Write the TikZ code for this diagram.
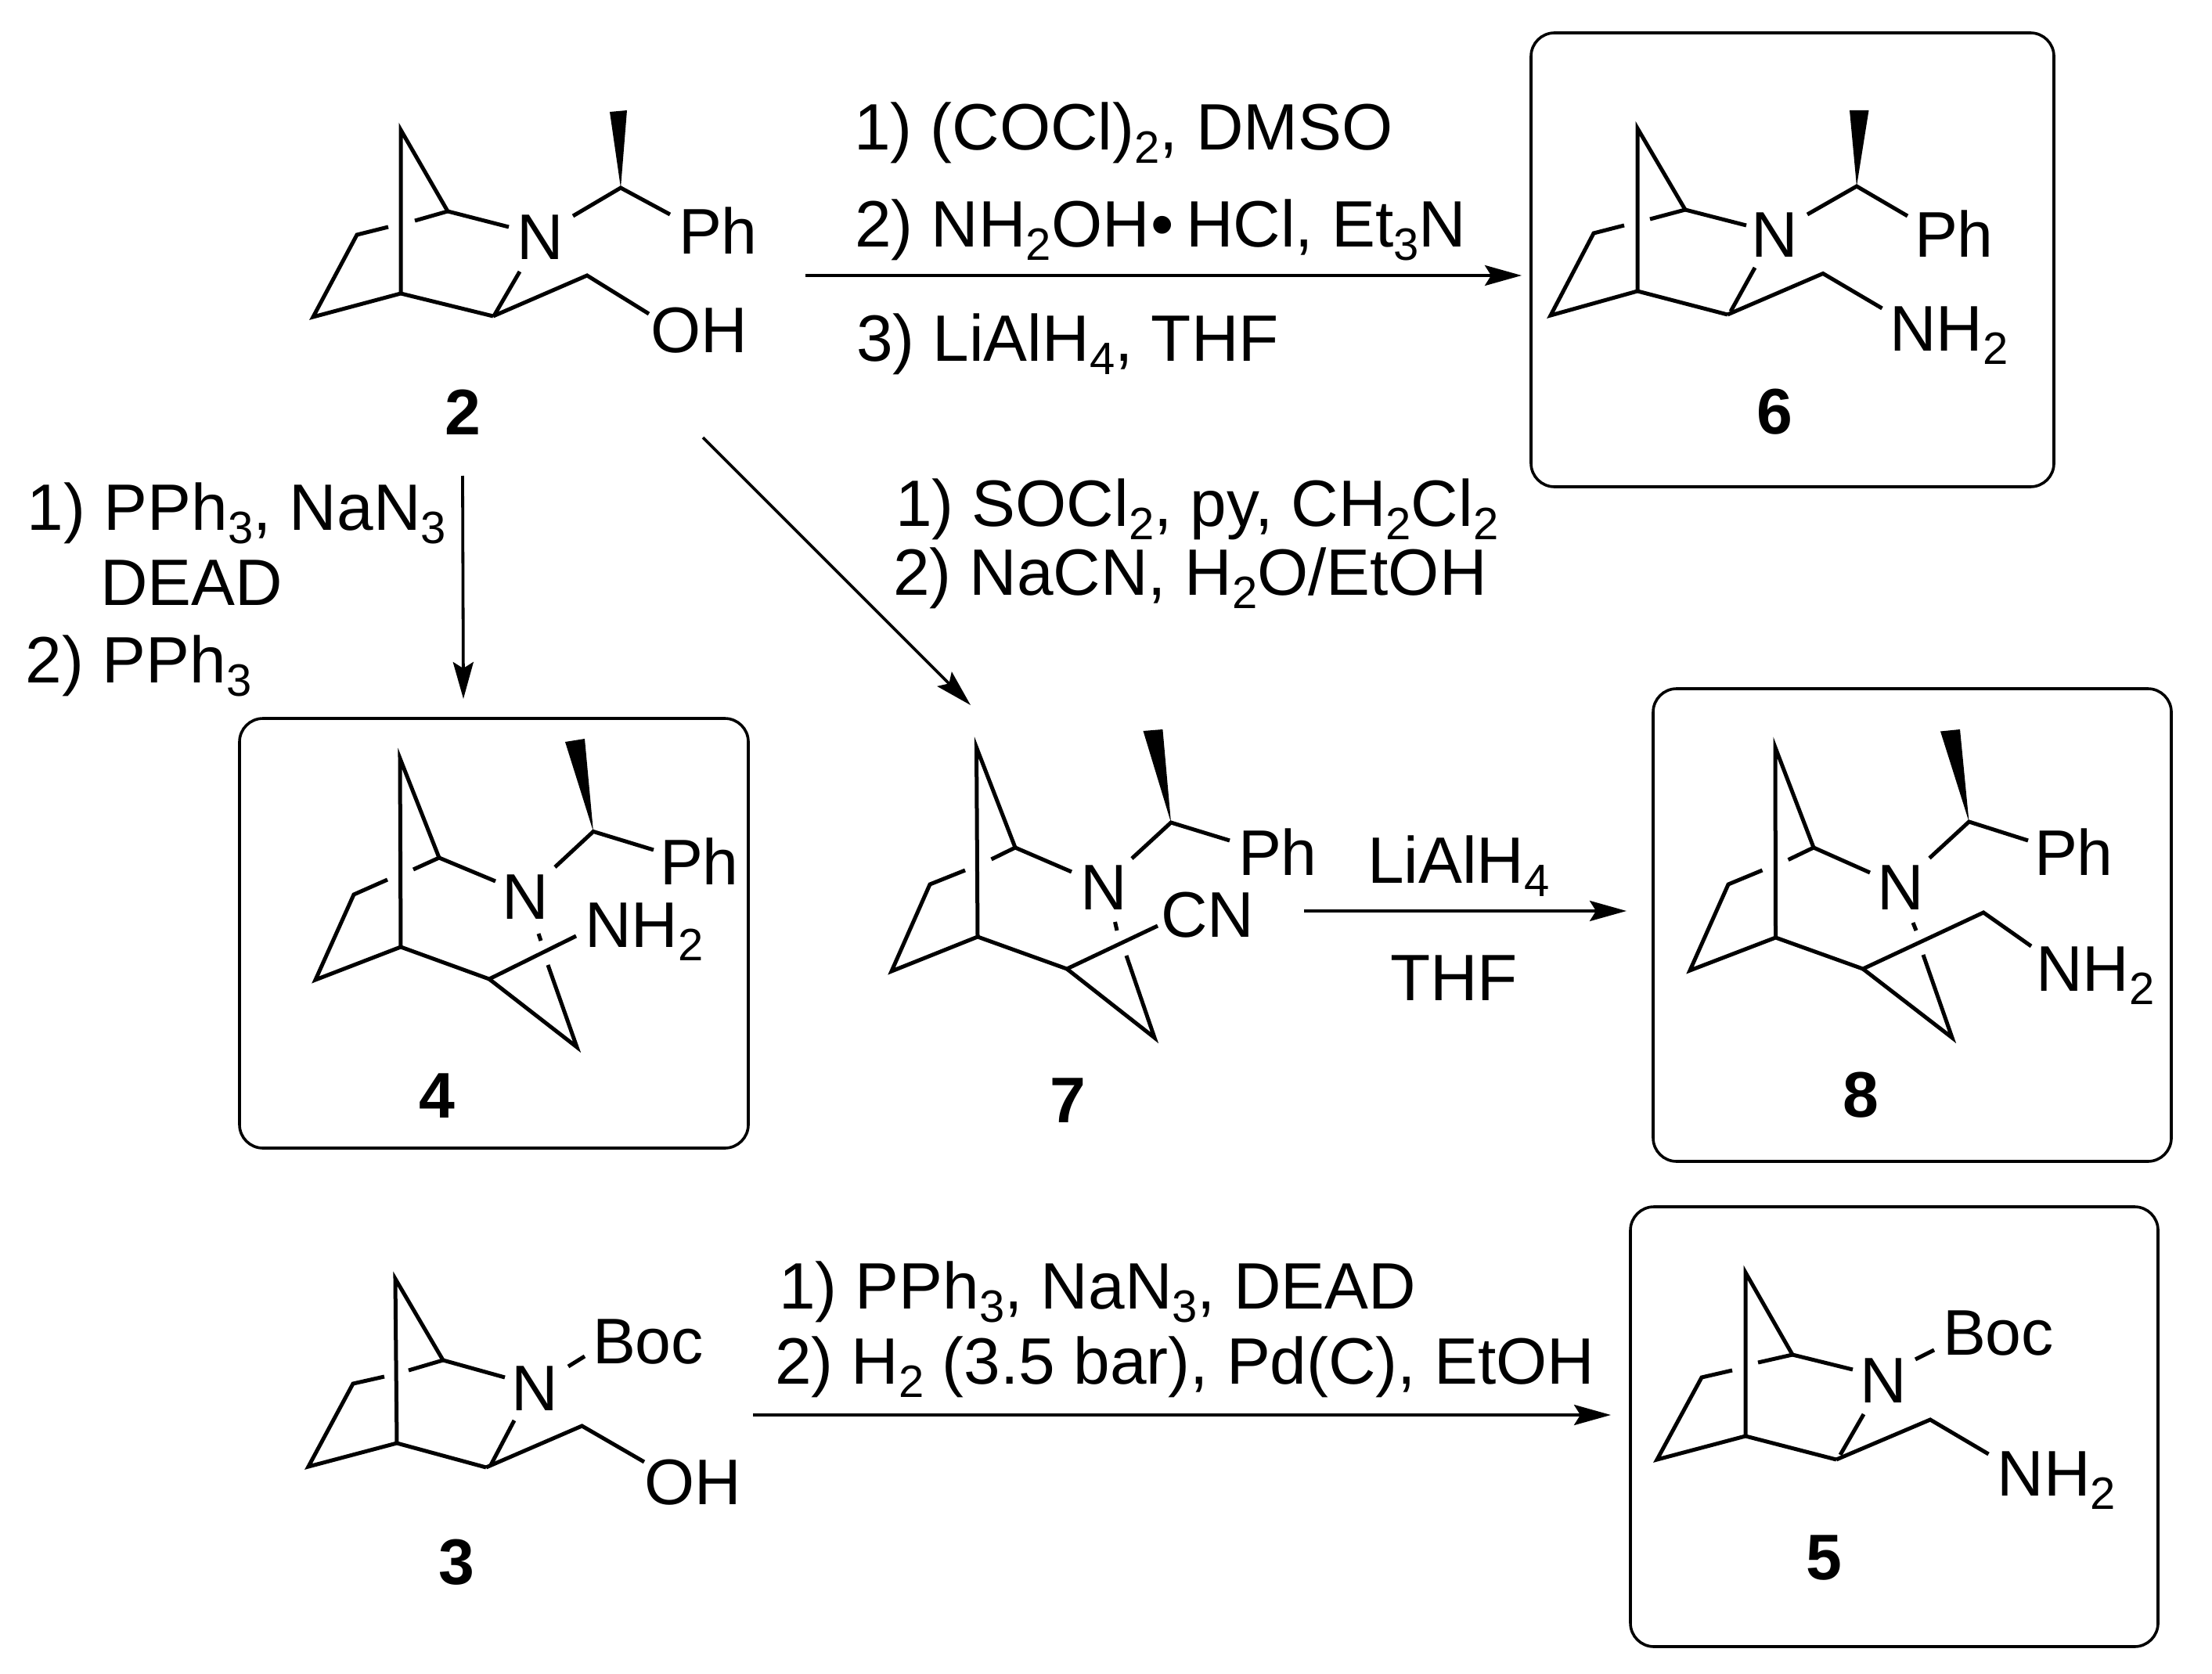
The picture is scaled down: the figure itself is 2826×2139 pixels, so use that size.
\documentclass[tikz,border=0pt]{standalone}
\usepackage{fontspec}
\setmainfont{Liberation Sans}
\usetikzlibrary{arrows.meta}
\newcommand\sbs[1]{\raisebox{-4.25pt}{\fontsize{14.5}{14.5}\selectfont #1}}
\newcommand\chemfont{\fontsize{20.6}{24}\selectfont}
\newcommand\reagfont{\fontsize{20.95}{24}\selectfont}
\tikzset{
  bond/.style={line width=1.25pt,line join=miter,line cap=butt,black},
  frame/.style={line width=0.9pt,rounded corners=7.5pt,black},
  rxn/.style={line width=0.95pt,black,-{Stealth[length=11.75pt,width=6.5pt,inset=2pt]}},
  lab/.style={inner sep=0pt,outer sep=0pt,anchor=base west,font=\chemfont},
  reag/.style={inner sep=0pt,outer sep=0pt,anchor=base west,font=\reagfont},
  num/.style={inner sep=0pt,outer sep=0pt,anchor=base,font=\chemfont\bfseries},
}
% prefix, apex, bridgehead, upper bridge C, left C, end of left C's broken bond,
% far-left C, lower right C, end of the broken bond from the upper bridge C
\newcommand\bicycle[9]{%
  \coordinate (#1a) at (#2);
  \coordinate (#1b) at (#3);
  \coordinate (#1c) at (#4);
  \coordinate (#1d) at (#5);
  \coordinate (#1e) at (#6);
  \coordinate (#1f) at (#7);
  \coordinate (#1g) at (#8);
  \coordinate (#1h) at (#9);
  \draw[bond] (#1b) -- (#1a) -- (#1c);
  \draw[bond] (#1e) -- (#1d) -- (#1f) -- (#1b) -- (#1g);
  \draw[bond] (#1h) -- (#1c);
}
\begin{document}
\begin{tikzpicture}[x=0.25pt,y=-0.25pt]
\useasboundingbox (0,0) rectangle (2826,2139);
\fill[white] (0,0) rectangle (2826,2139);

% frames
\draw[frame] (1956,42) rectangle (2624,622);
\draw[frame] (306,918) rectangle (956,1467);
\draw[frame] (2112,880) rectangle (2774,1484);
\draw[frame] (2083,1542) rectangle (2757,2104);

% molecule 2
\bicycle{A}{512,166}{512,375}{572,270}{456,300}{496,290}{400,405}{630,404}{530,282}
\draw[bond] (Ac) -- (650,290);
\draw[bond] (664,347) -- (632,402);
\draw[bond] (Ag) -- (750,352) -- (829,401);
\draw[bond] (732,276) -- (793,240) -- (856,274);
\fill (793,240) -- (779,143) -- (801,141) -- cycle;
\node[lab] (aN) at (660,332) {N};
\node[lab] (aPh) at (867,325) {Ph};
\node[lab] (aOH) at (831,451) {OH};
\node[num] (n2) at (591,556) {2};

% molecule 6
\bicycle{F}{2092,164}{2092,372}{2153,268}{2036,298}{2075,288}{1981,403}{2207,402}{2108,280}
\draw[bond] (Fc) -- (2231,288);
\draw[bond] (2242,342) -- (2211,398);
\draw[bond] (Fg) -- (2329,349.5) -- (2404.5,394);
\draw[bond] (2309,274) -- (2372,238) -- (2437,276);
\fill (2372,238) -- (2363,141) -- (2387.5,141) -- cycle;
\node[lab] (fN) at (2237,329) {N};
\node[lab] (fPh) at (2446,329) {Ph};
\node[lab] (fNH) at (2414,449) {NH\sbs{2}};
\node[num] (n6) at (2267,555) {6};

% molecule 4
\bicycle{D}{511,969}{512,1210}{561,1096}{452,1143}{495,1124}{403,1252}{625,1251}{528,1111}
\draw[bond] (Dc) -- (633,1126);
\draw[bond] (Dg) -- (736,1196);
\draw[bond] (Dg) -- (737,1338) -- (700,1233);
\draw[bond] (688,1193) -- (691,1202);
\draw[bond] (709,1108) -- (758,1062.5) -- (835,1086);
\fill (758,1062.5) -- (722,948) -- (747,944) -- cycle;
\node[lab] (dN) at (641,1174) {N};
\node[lab] (dPh) at (843,1130) {Ph};
\node[lab] (dNH) at (747,1210) {NH\sbs{2}};
\node[num] (n4) at (558,1428) {4};

% molecule 7
\bicycle{G}{1247.5,955}{1249,1197}{1297,1083}{1188,1130}{1233,1112}{1139,1241}{1363,1238}{1266.5,1098}
\draw[bond] (Gc) -- (1369,1114);
\draw[bond] (Gg) -- (1479,1183);
\draw[bond] (Gg) -- (1475,1326) -- (1439,1221);
\draw[bond] (1424.5,1178) -- (1427,1189);
\draw[bond] (1446,1097) -- (1496,1051) -- (1571,1074);
\fill (1496,1051) -- (1460.5,934) -- (1485.4,932) -- cycle;
\node[lab] (gN) at (1380,1162) {N};
\node[lab] (gPh) at (1582,1118) {Ph};
\node[lab] (gCN) at (1483,1197) {CN};
\node[num] (n7) at (1364,1434) {7};

% molecule 8
\bicycle{H}{2268,955}{2268.5,1198}{2317,1083}{2208,1130}{2251.5,1112}{2159,1240}{2380,1238}{2284.6,1098.6}
\draw[bond] (Hc) -- (2389,1115);
\draw[bond] (Hg) -- (2534,1166) -- (2595,1209);
\draw[bond] (Hg) -- (2494,1326) -- (2457,1220);
\draw[bond] (2444,1179) -- (2448,1189);
\draw[bond] (2465,1096.5) -- (2515.5,1050) -- (2591,1074);
\fill (2515.5,1050) -- (2479,934.5) -- (2504,932) -- cycle;
\node[lab] (hN) at (2398,1162) {N};
\node[lab] (hPh) at (2599,1118) {Ph};
\node[lab] (hNH) at (2601,1266) {NH\sbs{2}};
\node[num] (n8) at (2377,1427) {8};

% molecule 3
\bicycle{C}{505,1634}{507,1844}{566,1738}{451,1768}{491,1759}{394,1874}{621,1875}{522,1751}
\draw[bond] (Cc) -- (645,1760);
\draw[bond] (657,1815) -- (627,1872);
\draw[bond] (Cg) -- (743.5,1822) -- (823,1868);
\draw[bond] (726,1746) -- (747,1733);
\node[lab] (cN) at (653,1802) {N};
\node[lab] (cBoc) at (757,1742) {Boc};
\node[lab] (cOH) at (823,1922) {OH};
\node[num] (n3) at (583,2024) {3};

% molecule 5
\bicycle{E}{2230,1626}{2230,1835}{2290,1731}{2174,1760}{2213,1751}{2117,1865}{2346,1865}{2246,1741}
\draw[bond] (Ec) -- (2367,1750);
\draw[bond] (2381,1807) -- (2351,1859);
\draw[bond] (Eg) -- (2466,1814) -- (2540.5,1858);
\draw[bond] (2447,1737) -- (2471,1725);
\node[lab] (eN) at (2376,1792) {N};
\node[lab] (eBoc) at (2482,1731) {Boc};
\node[lab] (eNH) at (2551.5,1911.5) {NH\sbs{2}};
\node[num] (n5) at (2330,2018) {5};

% reaction arrows
\coordinate (r1s) at (1029,352);  \coordinate (r1e) at (1944,352);
\coordinate (r2s) at (591,608);   \coordinate (r2e) at (592,893);
\coordinate (r3s) at (898,559);   \coordinate (r3e) at (1240,901);
\coordinate (r4s) at (1666,1164); \coordinate (r4e) at (2078,1164);
\coordinate (r5s) at (962,1808);  \coordinate (r5e) at (2058,1808);
\draw[rxn] (r1s) -- (r1e);
\draw[rxn] (r2s) -- (r2e);
\draw[rxn] (r3s) -- (r3e);
\draw[rxn] (r4s) -- (r4e);
\draw[rxn] (r5s) -- (r5e);

% reagents
\node[reag] (t1) at (1091,192) {1) (COCl)\sbs{2}, DMSO};
\node[reag] (t2) at (1092,316) {2) NH\sbs{2}OH\hspace{0.5pt}•\hspace{3.75pt}HCl, Et\sbs{3}N};
\node[reag] (t3) at (1094,462) {3) LiAlH\sbs{4}, THF};
\node[reag] (t4) at (35,677) {1) PPh\sbs{3}, NaN\sbs{3}};
\node[reag] (t5) at (128,773) {DEAD};
\node[reag] (t6) at (33,872) {2) PPh\sbs{3}};
\node[reag] (t7) at (1144,672) {1) SOCl\sbs{2}, py, CH\sbs{2}Cl\sbs{2}};
\node[reag] (t8) at (1141,760) {2) NaCN, H\sbs{2}O/EtOH};
\node[reag] (t9) at (1747,1128) {LiAlH\sbs{4}};
\node[reag] (t10) at (1776,1278) {THF};
\node[reag] (t11) at (995,1672) {1) PPh\sbs{3}, NaN\sbs{3}, DEAD};
\node[reag] (t12) at (990,1768) {2) H\sbs{2} (3.5 bar), Pd(C), EtOH};
\end{tikzpicture}
\end{document}
